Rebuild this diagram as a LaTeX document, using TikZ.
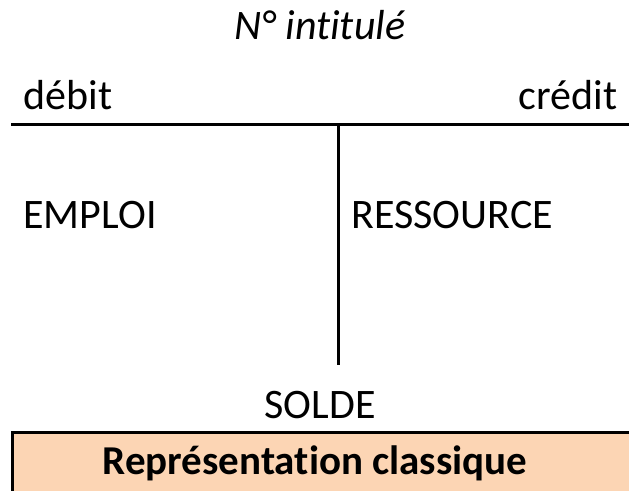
\documentclass[tikz,border=0pt]{standalone}
\usepackage{fontspec}
\setmainfont{Carlito}[Ligatures=CommonOff]
\usetikzlibrary{positioning}
\definecolor{peach}{RGB}{252,213,180}
\begin{document}
\begin{tikzpicture}[x=1pt, y=-1pt, line width=3pt]
    \tikzstyle{lbl}=[inner sep=0pt, font=\fontsize{42}{50}\selectfont]
    \tikzstyle{cadre}=[draw, line width=3pt, fill=peach]
    \useasboundingbox (0,0) rectangle (629,490);

    % compte en T
    \coordinate (hg) at (11,124);
    \coordinate (hd) at (629,124);
    \coordinate (milieu) at (338.5,124);
    \coordinate (bas) at (338.5,365);
    \draw (hg) -- (hd);
    \draw (milieu) -- (bas);

    \node[lbl, anchor=base] (intitule) at (320,39) {\textit{N° intitulé}};
    \node[lbl, anchor=base west] (debit) at (22,109) {débit};
    \node[lbl, anchor=base east] (credit) at (619,109) {crédit};
    \node[lbl, anchor=base west] (emploi) at (22,228) {EMPLOI};
    \node[lbl, anchor=base west] (ressource) at (350,228) {RESSOURCE};
    \node[lbl, anchor=base] (solde) at (320,418) {SOLDE};

    % bandeau
    \draw[cadre] (12.5,432.5) rectangle (660,520);
    \node[lbl, anchor=base, font=\fontsize{41}{50}\selectfont\bfseries] (repr) at (315,474) {Représentation classique};
\end{tikzpicture}
\end{document}
